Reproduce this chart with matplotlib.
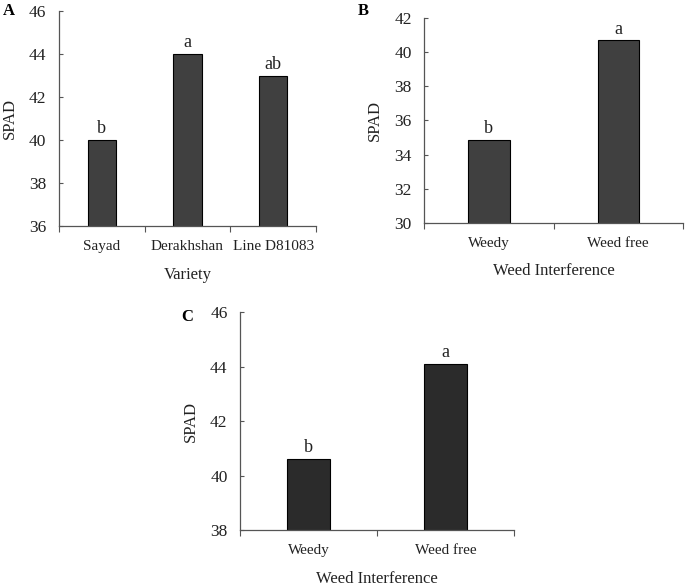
import matplotlib
matplotlib.use("Agg")
import matplotlib.pyplot as plt
import numpy as np

plt.rcParams['font.family'] = ['Liberation Serif', 'DejaVu Serif']

# Panel A
cats_a = ["Sayad", "Derakhshan", "Line D81083"]
vals_a = [40.0, 44.0, 43.0]
lets_a = ["b", "a", "ab"]
yticks_a = [36, 38, 40, 42, 44, 46]

# Panel B
cats_b = ["Weedy", "Weed free"]
vals_b = [34.85, 40.7]
lets_b = ["b", "a"]
yticks_b = [30, 32, 34, 36, 38, 40, 42]

# Panel C
cats_c = ["Weedy", "Weed free"]
vals_c = [40.62, 44.1]
lets_c = ["b", "a"]
yticks_c = [38, 40, 42, 44, 46]

fig = plt.figure(figsize=(6.85, 5.86), dpi=100)

def panel(rect, cats, vals, lets, yticks, xlabel, color, width, tag, tagpos):
    ax = fig.add_axes(rect)
    x = np.arange(len(cats))
    ax.bar(x, vals, width=width, color=color, edgecolor='black', linewidth=0.8, zorder=2)
    ax.set_xlim(-0.5, len(cats) - 0.5)
    ax.set_ylim(yticks[0], yticks[-1])
    ax.set_yticks(yticks)
    ax.set_yticklabels([str(t) for t in yticks], fontsize=12.5, color='#222222')
    ax.set_xticks(x)
    ax.set_xticklabels(cats, fontsize=11, color='#222222')
    ax.set_xticks(np.arange(len(cats) + 1) - 0.5, minor=True)
    ax.tick_params(axis='x', which='major', length=0, pad=10)
    ax.tick_params(axis='x', which='minor', length=4, width=0.8, color='#555555', direction='out')
    ax.tick_params(axis='y', length=3, width=0.8, color='#555555', direction='in', pad=9)
    for s in ['top', 'right']:
        ax.spines[s].set_visible(False)
    for s in ['left', 'bottom']:
        ax.spines[s].set_color('#555555')
        ax.spines[s].set_linewidth(0.9)
    ax.set_ylabel("SPAD", fontsize=12, color='#222222', labelpad=8)
    ax.set_xlabel(xlabel, fontsize=12, color='#222222', labelpad=10)
    for xi, v, l in zip(x, vals, lets):
        ax.annotate(l, (xi, v), xytext=(0, 2), textcoords='offset points',
                    ha='center', va='bottom', fontsize=13, color='#222222')
    fig.text(tagpos[0], tagpos[1], tag, fontsize=12, fontweight='bold', ha='left', va='top')
    return ax

panel([0.0861, 0.6143, 0.3752, 0.3669], cats_a, vals_a, lets_a, yticks_a, "Variety",
      '#404040', 0.33, "A", (0.004, 0.995))
panel([0.6194, 0.620, 0.3776, 0.3488], cats_b, vals_b, lets_b, yticks_b, "Weed Interference",
      '#404040', 0.32, "B", (0.522, 0.995))
panel([0.3504, 0.0956, 0.4000, 0.3715], cats_c, vals_c, lets_c, yticks_c, "Weed Interference",
      '#2b2b2b', 0.32, "C", (0.265, 0.472))

fig.savefig("out.png", dpi=100)
